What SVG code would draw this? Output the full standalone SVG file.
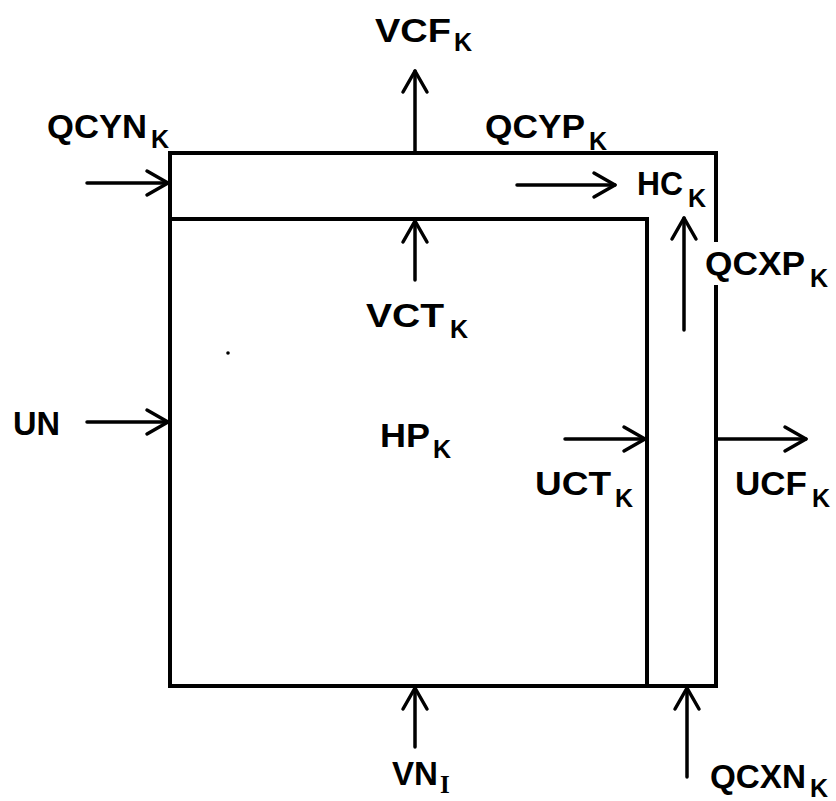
<svg xmlns="http://www.w3.org/2000/svg" width="836" height="801" viewBox="0 0 836 801">
<defs>
<marker id="ah" markerUnits="userSpaceOnUse" markerWidth="30" markerHeight="30" viewBox="-26 -15 30 30" refX="0" refY="0" orient="auto">
<path d="M-21,-12 L0,0 L-21,12" fill="none" stroke="#000" stroke-width="3.5" stroke-linecap="round" stroke-linejoin="round"/>
</marker>
<style>
.frame{fill:none;stroke:#000;stroke-width:4;stroke-linecap:square;stroke-linejoin:miter}
.arr{fill:none;stroke:#000;stroke-width:3.5;stroke-linecap:round;marker-end:url(#ah)}
.lbl{font-family:"Liberation Sans",Arial,sans-serif;font-weight:bold;font-size:34px;fill:#000}
.sub{font-size:25px}
.subi{font-family:"Liberation Serif","Times New Roman",serif;font-size:25px}
</style>
</defs>
<rect width="836" height="801" fill="#fff"/>
<g id="channel">
<path class="frame" d="M716,240 L716,153 L170,153 L170,686 L716,686 L716,287"/>
</g>
<g id="hp-cell">
<path class="frame" d="M170,219 L647,219 L647,686"/>
<circle cx="228" cy="353" r="1.8" fill="#000"/>
</g>
<g id="connectors">
<line class="arr" x1="415" y1="153" x2="415" y2="71"/>
<line class="arr" x1="87" y1="183" x2="168" y2="183"/>
<line class="arr" x1="415" y1="280" x2="415" y2="221"/>
<line class="arr" x1="517" y1="185" x2="615" y2="185"/>
<line class="arr" x1="684" y1="330" x2="684" y2="218"/>
<line class="arr" x1="87" y1="422" x2="168" y2="422"/>
<line class="arr" x1="565" y1="439" x2="645" y2="439"/>
<line class="arr" x1="716" y1="439" x2="806" y2="439"/>
<line class="arr" x1="415" y1="747" x2="415" y2="688"/>
<line class="arr" x1="687" y1="777" x2="687" y2="688"/>
</g>
<g id="labels">
<text id="vcf" class="lbl"><tspan x="375" y="42" textLength="76" lengthAdjust="spacingAndGlyphs">VCF</tspan><tspan class="sub" x="454" y="51">K</tspan></text>
<text id="qcyn" class="lbl"><tspan x="47" y="138" textLength="100" lengthAdjust="spacingAndGlyphs">QCYN</tspan><tspan class="sub" x="151" y="148">K</tspan></text>
<text id="qcyp" class="lbl"><tspan x="485" y="138" textLength="100" lengthAdjust="spacingAndGlyphs">QCYP</tspan><tspan class="sub" x="589" y="150">K</tspan></text>
<text id="hc" class="lbl"><tspan x="637" y="195" textLength="46" lengthAdjust="spacingAndGlyphs">HC</tspan><tspan class="sub" x="688" y="207">K</tspan></text>
<text id="qcxp" class="lbl"><tspan x="705" y="275" textLength="100" lengthAdjust="spacingAndGlyphs">QCXP</tspan><tspan class="sub" x="810" y="287">K</tspan></text>
<text id="vct" class="lbl"><tspan x="366" y="327" textLength="78" lengthAdjust="spacingAndGlyphs">VCT</tspan><tspan class="sub" x="450" y="338">K</tspan></text>
<text id="un" class="lbl"><tspan x="13" y="435" textLength="47" lengthAdjust="spacingAndGlyphs">UN</tspan></text>
<text id="hp" class="lbl"><tspan x="380" y="447" textLength="50" lengthAdjust="spacingAndGlyphs">HP</tspan><tspan class="sub" x="433" y="458">K</tspan></text>
<text id="uct" class="lbl"><tspan x="535" y="495" textLength="76" lengthAdjust="spacingAndGlyphs">UCT</tspan><tspan class="sub" x="615" y="507">K</tspan></text>
<text id="ucf" class="lbl"><tspan x="735" y="495" textLength="72" lengthAdjust="spacingAndGlyphs">UCF</tspan><tspan class="sub" x="812" y="507">K</tspan></text>
<text id="vn" class="lbl"><tspan x="392" y="785" textLength="46" lengthAdjust="spacingAndGlyphs">VN</tspan><tspan class="subi" x="440" y="793">I</tspan></text>
<text id="qcxn" class="lbl"><tspan x="710" y="788" textLength="96" lengthAdjust="spacingAndGlyphs">QCXN</tspan><tspan class="sub" x="810" y="797">K</tspan></text>
</g>
</svg>
